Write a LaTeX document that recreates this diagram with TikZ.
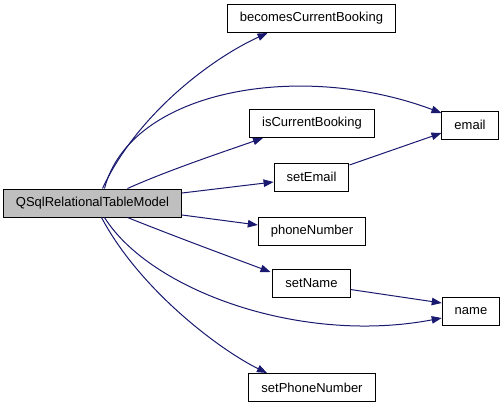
\documentclass[tikz,border=0pt]{standalone}
\usepackage{fontspec}
\setmainfont{Liberation Sans}
\usetikzlibrary{arrows.meta}
\definecolor{edgeblue}{RGB}{25,25,112}
\definecolor{rootgray}{RGB}{191,191,191}

\begin{document}
\begin{tikzpicture}[
    x=1pt,y=-1pt,
    fn/.style={draw=black,line width=1pt,rectangle,inner xsep=12.5pt,
      minimum height=28pt,font=\fontsize{13}{15}\selectfont},
    root/.style={fn,fill=rootgray},
    call/.style={draw=edgeblue,line width=1pt,
      -{Triangle[length=10pt,width=7.5pt]}}
]
\useasboundingbox (0,0) rectangle (504,408);

% caller and callees
\node[root] (model) at (92.5,203) {QSqlRelationalTableModel};
\node[fn] (becomes) at (311.5,18.5) {becomesCurrentBooking};
\node[fn] (iscur) at (312,123.5) {isCurrentBooking};
\node[fn] (setemail) at (311.5,177) {setEmail};
\node[fn] (phone) at (312,231) {phoneNumber};
\node[fn] (setname) at (311.5,283.5) {setName};
\node[fn] (setphone) at (312,387.5) {setPhoneNumber};
\node[fn] (email) at (470,125) {email};
\node[fn] (name) at (471,311) {name};

% calls from the model
\draw[call] ([shift={(10,0)}]model.north)
  .. controls +(35,-75) and +(-55,25) .. ([shift={(-44,0)}]becomes.south);
\draw[call] ([shift={(12,0)}]model.north)
  .. controls (130,90) and (300,60) .. ([shift={(0,-12)}]email.west);
\draw[call] ([shift={(35,0)}]model.north)
  .. controls +(40,-18) and +(-40,14) .. ([shift={(-49,0)}]iscur.south);
\draw[call] ([shift={(0,-10)}]model.east) -- ([shift={(0,5)}]setemail.west);
\draw[call] ([shift={(0,12)}]model.east) -- ([shift={(0,-6)}]phone.west);
\draw[call] ([shift={(35,0)}]model.south)
  .. controls +(50,20) and +(-40,-15) .. ([shift={(-2,3)}]setname.north west);
\draw[call] ([shift={(12,0)}]model.south)
  .. controls (150,290) and (300,345) .. ([shift={(0,7)}]name.west);
\draw[call] ([shift={(9,0)}]model.south)
  .. controls (140,290) and (220,350) .. ([shift={(-45,0)}]setphone.north);

% calls between callees
\draw[call] ([shift={(0,-12)}]setemail.east) -- ([shift={(0,8)}]email.west);
\draw[call] ([shift={(0,6)}]setname.east) -- ([shift={(0,-8)}]name.west);
\end{tikzpicture}
\end{document}
